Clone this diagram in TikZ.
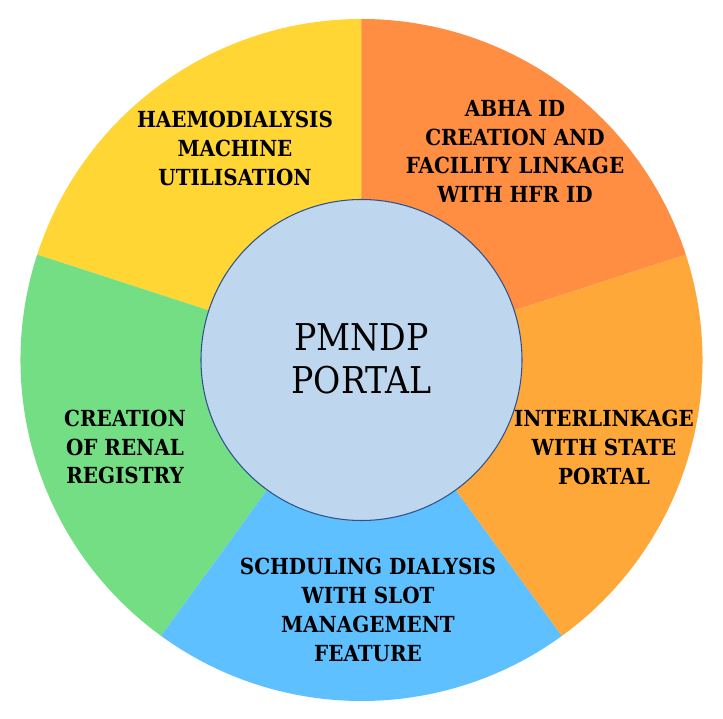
\documentclass[tikz,border=0pt]{standalone}
\usepackage{fontspec}
\setmainfont{DejaVu Serif Condensed}
\definecolor{segorange}{RGB}{255,142,66}
\definecolor{seglight}{RGB}{255,168,58}
\definecolor{segblue}{RGB}{94,192,255}
\definecolor{seggreen}{RGB}{116,222,132}
\definecolor{segyellow}{RGB}{255,214,51}
\definecolor{hubfill}{RGB}{190,215,238}
\definecolor{hubline}{RGB}{47,82,143}
\tikzset{
  seglabel/.style={align=center, font=\bfseries\fontsize{12.6}{16.4}\selectfont},
  hublabel/.style={align=center, font=\fontsize{21}{24.4}\selectfont}
}
\begin{document}
\begin{tikzpicture}
        \useasboundingbox (-7.23,-7.18) rectangle (7.23,7.20);
        % sectors of the wheel
        \def\R{6.82}
        \fill[segyellow] (0,0) -- (90:\R) arc[start angle=90, end angle=162, radius=\R] -- cycle;
        \fill[seggreen] (0,0) -- (162:\R) arc[start angle=162, end angle=234, radius=\R] -- cycle;
        \fill[segblue] (0,0) -- (234:\R) arc[start angle=234, end angle=306, radius=\R] -- cycle;
        \fill[seglight] (0,0) -- (-54:\R) arc[start angle=-54, end angle=18, radius=\R] -- cycle;
        \fill[segorange] (0,0) -- (18:\R) arc[start angle=18, end angle=90, radius=\R] -- cycle;
        % hub
        \draw[hubline, fill=hubfill, line width=0.6pt] (0,0) circle (3.21);
        \node[hublabel] (hub) at (0,0.03) {PMNDP\\PORTAL};
        % sector labels
        \node[seglabel] (haemo) at (-2.53,4.23) {HAEMODIALYSIS\\MACHINE\\UTILISATION};
        \node[seglabel] (abha) at (3.07,4.17) {ABHA ID\\CREATION AND\\FACILITY LINKAGE\\WITH HFR ID};
        \node[seglabel] (state) at (4.85,-1.75) {INTERLINKAGE\\WITH STATE\\PORTAL};
        \node[seglabel] (slot) at (0.13,-5.0) {SCHDULING DIALYSIS\\WITH SLOT\\MANAGEMENT\\FEATURE};
        \node[seglabel] (renal) at (-4.73,-1.74) {CREATION\\OF RENAL\\REGISTRY};
    \end{tikzpicture}
\end{document}
